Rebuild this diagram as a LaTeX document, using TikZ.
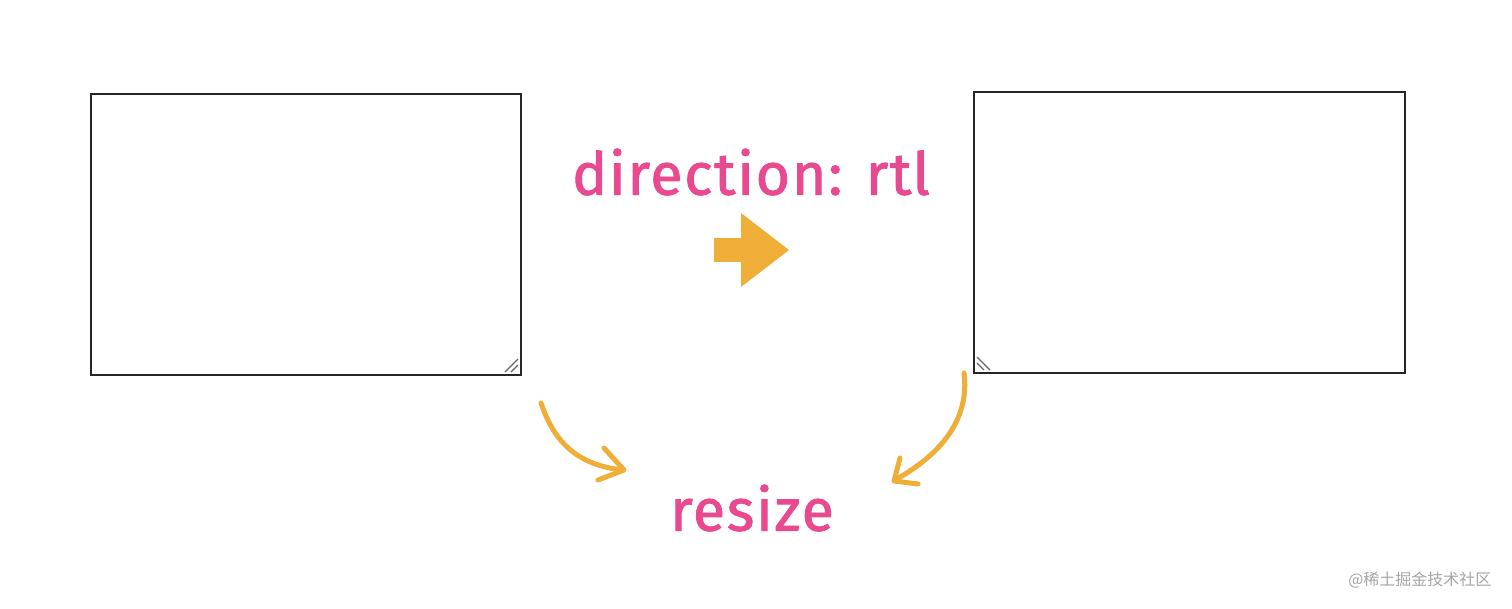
\documentclass[tikz,border=0pt]{standalone}
\usepackage{fontspec}
\setmainfont{Fira Sans}
\newfontfamily\cjk{Noto Sans CJK SC}
\newfontfamily\labfont[FakeBold=1.5,LetterSpace=3]{Fira Sans}
\begin{document}
\begin{tikzpicture}[x=1pt,y=-1pt,
  win/.style={draw=black!85,line width=1.6pt},
  lbl/.style={text=pink1,font=\labfont\fontsize{59}{62}\selectfont,inner sep=0pt},
  curv/.style={draw=orange1,line width=5pt,line cap=round,line join=round}]
\definecolor{pink1}{HTML}{E8498F}
\definecolor{orange1}{HTML}{EFAE38}
\useasboundingbox (0,0) rectangle (1512,608);
\draw[win] (91,94) rectangle (521,375);
\draw[win] (974,92) rectangle (1405,373);
\draw[black!60,line width=1.2pt] (505,372)--(518,359) (511,372)--(518,365);
\draw[black!60,line width=1.2pt] (990,370)--(977,357) (984,370)--(977,363);
\node[lbl] (t1) at (751,172) {direction: rtl};
\node[lbl] (t2) at (752,508) {resize};
\fill[orange1] (714,238) rectangle (743,262);
\fill[orange1] (741,213) -- (789,250) -- (741,287) -- cycle;
\coordinate (a1) at (541,403); \coordinate (a2) at (622,470);
\draw[curv] (a1) .. controls (555,445) and (580,465) .. (a2);
\draw[curv] (604,448) -- (624,470) -- (598,480);
\coordinate (b1) at (964,373); \coordinate (b2) at (895,480);
\draw[curv] (b1) .. controls (970,420) and (940,455) .. (b2);
\draw[curv] (900,458) -- (894,481) -- (918,484);
\node[text=gray!70,font=\cjk\fontsize{16}{18}\selectfont,anchor=east] (wm) at (1495,580) {@稀土掘金技术社区};
\end{tikzpicture}
\end{document}
